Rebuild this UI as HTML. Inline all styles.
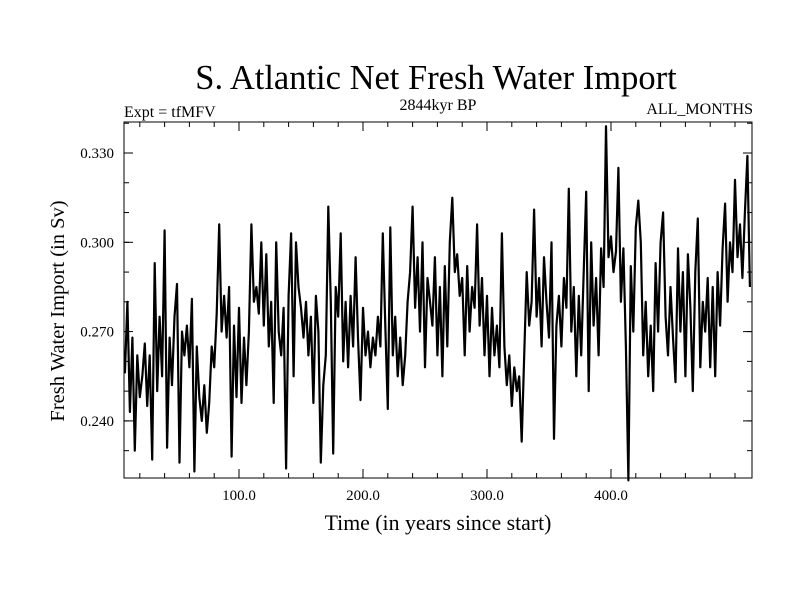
<!DOCTYPE html>
<html><head><meta charset="utf-8"><style>
body{margin:0;background:#fff}
svg text{font-family:"Liberation Serif",serif;fill:#000}
</style></head><body>
<svg id="chart" width="800" height="600" xmlns="http://www.w3.org/2000/svg">
<rect width="800" height="600" fill="#fff"/>
<text x="436" y="89" font-size="34.5" text-anchor="middle">S. Atlantic Net Fresh Water Import</text>
<text x="124" y="117" font-size="16">Expt = tfMFV</text>
<text x="438" y="110" font-size="16" text-anchor="middle">2844kyr BP</text>
<text x="753" y="114" font-size="16" text-anchor="end">ALL_MONTHS</text>
<text transform="translate(64,311) rotate(-90)" font-size="20.5" text-anchor="middle">Fresh Water Import (in Sv)</text>
<text x="438" y="530" font-size="21.8" text-anchor="middle">Time (in years since start)</text>
<g id="axes"></g>
<path id="series" fill="none" stroke="#000" stroke-width="2.2" stroke-linejoin="round"/>
<rect x="124" y="122" width="628" height="356" fill="none" stroke="#000" stroke-width="1"/>
</svg>
<script>
const startYear = 8;
const yearStep = 2;
const values = [
0.256,0.280,0.243,0.268,0.230, 0.262,0.248,0.255,0.266,0.245,
0.262,0.227,0.293,0.250,0.275, 0.255,0.304,0.231,0.268,0.252,
0.275,0.286,0.226,0.270,0.262, 0.272,0.258,0.281,0.223,0.265,
0.248,0.240,0.252,0.236,0.246, 0.265,0.258,0.276,0.306,0.270,
0.282,0.268,0.285,0.228,0.272, 0.248,0.278,0.246,0.268,0.252,
0.270,0.306,0.280,0.285,0.276, 0.300,0.272,0.296,0.265,0.280,
0.246,0.300,0.270,0.262,0.278, 0.224,0.282,0.303,0.255,0.300,
0.285,0.278,0.268,0.280,0.262, 0.275,0.246,0.282,0.270,0.226,
0.252,0.262,0.312,0.280,0.229, 0.285,0.275,0.303,0.260,0.280,
0.258,0.282,0.265,0.295,0.268, 0.247,0.278,0.262,0.270,0.258,
0.268,0.262,0.275,0.265,0.303, 0.272,0.244,0.305,0.262,0.275,
0.255,0.268,0.252,0.262,0.280, 0.290,0.312,0.278,0.295,0.270,
0.300,0.258,0.288,0.280,0.272, 0.295,0.262,0.285,0.255,0.292,
0.265,0.300,0.315,0.290,0.296, 0.282,0.288,0.262,0.292,0.270,
0.285,0.278,0.306,0.272,0.288, 0.262,0.282,0.255,0.278,0.262,
0.272,0.258,0.303,0.265,0.252, 0.262,0.245,0.258,0.250,0.255,
0.233,0.262,0.290,0.272,0.280, 0.311,0.275,0.288,0.265,0.295,
0.280,0.268,0.300,0.234,0.272, 0.282,0.265,0.288,0.278,0.318,
0.270,0.285,0.255,0.282,0.262, 0.290,0.317,0.250,0.300,0.272,
0.288,0.262,0.298,0.285,0.339, 0.295,0.302,0.290,0.297,0.325,
0.280,0.298,0.265,0.220,0.292, 0.270,0.305,0.314,0.300,0.262,
0.280,0.255,0.272,0.250,0.293, 0.270,0.300,0.310,0.275,0.262,
0.285,0.268,0.253,0.298,0.270, 0.290,0.255,0.296,0.278,0.250,
0.290,0.308,0.258,0.280,0.270, 0.288,0.258,0.285,0.255,0.290,
0.272,0.298,0.313,0.280,0.300, 0.290,0.321,0.295,0.306,0.288,
0.310,0.329,0.285
];
const yTickValues = [0.240,0.270,0.300,0.330];
const yTickLabels = ["0.240","0.270","0.300","0.330"];
const xTickValues = [100,200,300,400];
const xTickLabels = ["100.0","200.0","300.0","400.0"];

const NS="http://www.w3.org/2000/svg";
const L=124,R=752,T=122,B=478;
function xs(yr){return 115+1.24*yr;}
function ys(v){return 153+(0.330-v)/0.030*89.3;}
const axes=document.getElementById('axes');
function line(x1,y1,x2,y2){const l=document.createElementNS(NS,'line');l.setAttribute('x1',x1);l.setAttribute('y1',y1);l.setAttribute('x2',x2);l.setAttribute('y2',y2);l.setAttribute('stroke','#000');l.setAttribute('stroke-width','1');


axes.appendChild(l);}
for(let v=0.220;v<=0.3405;v+=0.010){const y=ys(v);if(y<T||y>B)continue;line(L,y,L+5,y);line(R,y,R-5,y);}
yTickValues.forEach((v,i)=>{const y=ys(v);line(L,y,L+9,y);line(R,y,R-9,y);
const t=document.createElementNS(NS,'text');t.setAttribute('x',L-10);t.setAttribute('y',y+5);t.setAttribute('font-size','15');t.setAttribute('text-anchor','end');t.textContent=yTickLabels[i];


axes.appendChild(t);});
for(let yr=20;yr<=500;yr+=20){const x=xs(yr);if(x<L||x>R)continue;line(x,B,x,B-5);line(x,T,x,T+5);}
xTickValues.forEach((v,i)=>{const x=xs(v);line(x,B,x,B-9);line(x,T,x,T+9);
const t=document.createElementNS(NS,'text');t.setAttribute('x',x);t.setAttribute('y',B+22);t.setAttribute('font-size','15');t.setAttribute('text-anchor','middle');t.textContent=xTickLabels[i];


axes.appendChild(t);});
let d='';
values.forEach((v,i)=>{const x=xs(startYear+i*yearStep),y=ys(v);d+=(i?'L':'M')+x.toFixed(1)+' '+y.toFixed(1);});
document.getElementById('series').setAttribute('d',d);
</script>
</body></html>
